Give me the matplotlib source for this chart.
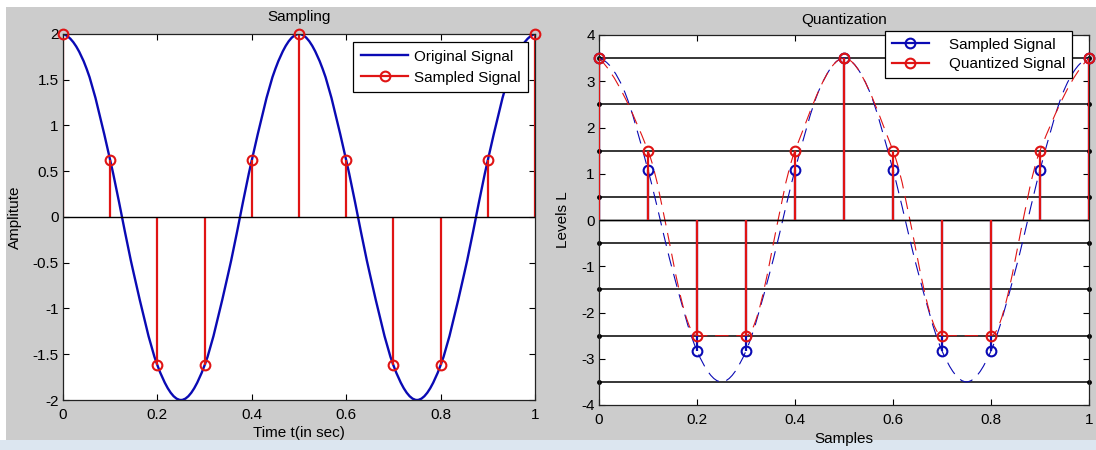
import numpy as np
import matplotlib
matplotlib.use("Agg")
import matplotlib.pyplot as plt
from matplotlib.path import Path
from matplotlib.patches import PathPatch, Rectangle
from matplotlib.lines import Line2D
from matplotlib.legend_handler import HandlerLine2D
from matplotlib.ticker import FormatStrFormatter

plt.rcParams['font.family'] = ['Liberation Sans', 'DejaVu Sans']
plt.rcParams['axes.unicode_minus'] = False

# sample instants
t_samples = [0.0, 0.1, 0.2, 0.3, 0.4, 0.5, 0.6, 0.7, 0.8, 0.9, 1.0]
# left panel: sampled values
sampled_left = [2.0, 0.62, -1.62, -1.62, 0.62, 2.0, 0.62, -1.62, -1.62, 0.62, 2.0]
# right panel: sampled and quantized values
sampled_right = [3.5, 1.08, -2.83, -2.83, 1.08, 3.5, 1.08, -2.83, -2.83, 1.08, 3.5]
quantized = [3.5, 1.5, -2.5, -2.5, 1.5, 3.5, 1.5, -2.5, -2.5, 1.5, 3.5]
levels = [-3.5, -2.5, -1.5, -0.5, 0.5, 1.5, 2.5, 3.5]

# continuous curves every 0.05 s
t_curve = [0.0, 0.05, 0.1, 0.15, 0.2, 0.25, 0.3, 0.35, 0.4, 0.45, 0.5,
           0.55, 0.6, 0.65, 0.7, 0.75, 0.8, 0.85, 0.9, 0.95, 1.0]
original_left = [2.0, 1.62, 0.62, -0.62, -1.62, -2.0, -1.62, -0.62, 0.62, 1.62, 2.0,
                 1.62, 0.62, -0.62, -1.62, -2.0, -1.62, -0.62, 0.62, 1.62, 2.0]
original_right = [3.5, 2.83, 1.08, -1.08, -2.83, -3.5, -2.83, -1.08, 1.08, 2.83, 3.5,
                  2.83, 1.08, -1.08, -2.83, -3.5, -2.83, -1.08, 1.08, 2.83, 3.5]

BLUE = '#0a0ab4'
RED = '#e01414'
FS = 11


def smooth_path(x, y, monotone=True):
    # cubic hermite through the points, drawn as bezier segments
    x = np.asarray(x, float)
    y = np.asarray(y, float)
    h = np.diff(x)
    d = np.diff(y) / h
    m = np.zeros_like(y)
    for k in range(1, len(y) - 1):
        if monotone:
            if d[k-1] * d[k] > 0:
                w1 = 2*h[k] + h[k-1]
                w2 = h[k] + 2*h[k-1]
                m[k] = (w1 + w2) / (w1/d[k-1] + w2/d[k])
        else:
            m[k] = (y[k+1] - y[k-1]) / (x[k+1] - x[k-1])

    def end(h0, h1, d0, d1):
        s = ((2*h0 + h1)*d0 - h0*d1) / (h0 + h1)
        if np.sign(s) != np.sign(d0):
            s = 0.0
        elif np.sign(d0) != np.sign(d1) and abs(s) > abs(3*d0):
            s = 3*d0
        return s
    m[0] = end(h[0], h[1], d[0], d[1])
    m[-1] = end(h[-1], h[-2], d[-1], d[-2])
    verts = [(x[0], y[0])]
    codes = [Path.MOVETO]
    for k in range(len(h)):
        verts += [(x[k] + h[k]/3, y[k] + m[k]*h[k]/3),
                  (x[k+1] - h[k]/3, y[k+1] - m[k+1]*h[k]/3),
                  (x[k+1], y[k+1])]
        codes += [Path.CURVE4]*3
    return Path(verts, codes)


class EndMarker(HandlerLine2D):
    # matlab style legend: marker at the right end of the line
    def get_xdata(self, legend, xdescent, ydescent, width, height, fontsize):
        xd, xm = super().get_xdata(legend, xdescent, ydescent, width, height, fontsize)
        return xd, [xd[-1]]


def style_axes(ax):
    ax.tick_params(direction='in', top=True, right=True, length=4, width=0.8,
                   labelsize=FS, colors='k')
    ax.tick_params(axis='x', pad=6)
    ax.tick_params(axis='y', pad=3)
    for s in ax.spines.values():
        s.set_linewidth(0.9)
        s.set_color('#222222')
    ax.set_facecolor('white')
    ax.xaxis.set_major_formatter(FormatStrFormatter('%g'))
    ax.yaxis.set_major_formatter(FormatStrFormatter('%g'))


fig = plt.figure(figsize=(10.96, 4.5), dpi=100, facecolor='#cccccc')
# white strips at the top and left, pale blue strip at the bottom
fig.patches.append(Rectangle((0, 1 - 7/450), 1, 7/450, transform=fig.transFigure,
                             facecolor='white', edgecolor='none', zorder=-1))
fig.patches.append(Rectangle((0, 0), 6/1096, 1, transform=fig.transFigure,
                             facecolor='white', edgecolor='none', zorder=-1))
fig.patches.append(Rectangle((0, 0), 1, 10/450, transform=fig.transFigure,
                             facecolor='#dce6f0', edgecolor='none', zorder=-1))

marker_kw = dict(markerfacecolor='none', markeredgewidth=1.5, markersize=7)

# ---------- Sampling ----------
ax1 = fig.add_axes([63/1096, 1 - 400/450, 472/1096, 366/450])
ax1.add_patch(PathPatch(smooth_path(t_curve, original_left, monotone=False), fill=False,
                        edgecolor=BLUE, lw=1.7, zorder=2))
ml, sl, bl = ax1.stem(t_samples, sampled_left, linefmt='-', markerfmt='o', basefmt='k-')
plt.setp(sl, color=RED, lw=1.6)
plt.setp(ml, color=RED, clip_on=False, zorder=4, **marker_kw)
plt.setp(bl, color='k', lw=1.0)
ax1.set_xlim(0, 1)
ax1.set_ylim(-2, 2)
ax1.set_xticks([0, 0.2, 0.4, 0.6, 0.8, 1])
ax1.set_yticks(np.arange(-2, 2.01, 0.5))
style_axes(ax1)
ax1.set_title('Sampling', fontsize=FS, pad=9)
ax1.set_xlabel('Time t(in sec)', fontsize=FS, labelpad=3)
ax1.set_ylabel('Amplitute', fontsize=FS, labelpad=8)
h1 = [Line2D([], [], color=BLUE, lw=1.7),
      Line2D([], [], color=RED, lw=1.6, marker='o', **marker_kw)]
leg1 = ax1.legend(h1, ['Original Signal', 'Sampled Signal'], loc='upper right',
                  bbox_to_anchor=(0.985, 0.978), borderaxespad=0, fontsize=FS,
                  fancybox=False, edgecolor='k', framealpha=1, handlelength=3.1,
                  handletextpad=0.35, labelspacing=0.45, borderpad=0.5, numpoints=1,
                  handler_map={Line2D: EndMarker()})
leg1.get_frame().set_linewidth(0.9)

# ---------- Quantization ----------
ax2 = fig.add_axes([599/1096, 1 - 405/450, 490/1096, 370/450])
ax2.hlines(levels, t_samples[0], t_samples[-1], colors='k', lw=1.1, zorder=1)
ax2.plot([t_samples[0]]*len(levels) + [t_samples[-1]]*len(levels), levels*2, 'k.',
         ms=5, clip_on=False, zorder=1)
ax2.add_patch(PathPatch(smooth_path(t_curve, original_right, monotone=False), fill=False,
                        edgecolor=BLUE, lw=0.8, linestyle=(0, (12, 7)), zorder=2))
ax2.add_patch(PathPatch(smooth_path(t_samples, quantized), fill=False,
                        edgecolor=RED, lw=0.8, linestyle=(0, (12, 7)), zorder=2))
ml2, sl2, bl2 = ax2.stem(t_samples, sampled_right, linefmt='-', markerfmt='o', basefmt='k-')
plt.setp(sl2, color=BLUE, lw=1.6, zorder=3)
plt.setp(ml2, color=BLUE, clip_on=False, zorder=3, **marker_kw)
plt.setp(bl2, color='k', lw=1.0)
ml3, sl3, bl3 = ax2.stem(t_samples, quantized, linefmt='-', markerfmt='o', basefmt='k-')
plt.setp(sl3, color=RED, lw=1.6, zorder=4)
plt.setp(ml3, color=RED, clip_on=False, zorder=5, **marker_kw)
plt.setp(bl3, color='k', lw=1.0)
ax2.set_xlim(0, 1)
ax2.set_ylim(-4, 4)
ax2.set_xticks([0, 0.2, 0.4, 0.6, 0.8, 1])
ax2.set_yticks(np.arange(-4, 4.01, 1))
style_axes(ax2)
ax2.set_title('Quantization', fontsize=FS, pad=8)
ax2.set_xlabel('Samples', fontsize=FS, labelpad=3)
ax2.set_ylabel('Levels L', fontsize=FS, labelpad=8)
h2 = [Line2D([], [], color=BLUE, lw=1.6, marker='o', **marker_kw),
      Line2D([], [], color=RED, lw=1.6, marker='o', **marker_kw)]
leg2 = ax2.legend(h2, ['Sampled Signal', 'Quantized Signal'], loc='upper right',
                  bbox_to_anchor=(0.965, 1.011), borderaxespad=0, fontsize=FS,
                  fancybox=False, edgecolor='k', framealpha=1, handlelength=2.4,
                  handletextpad=1.3, labelspacing=0.35, borderpad=0.45, numpoints=1,
                  handler_map={Line2D: EndMarker()})
leg2.get_frame().set_linewidth(0.9)
leg2.set_zorder(10)

fig.savefig('out.png', dpi=100, facecolor=fig.get_facecolor())
